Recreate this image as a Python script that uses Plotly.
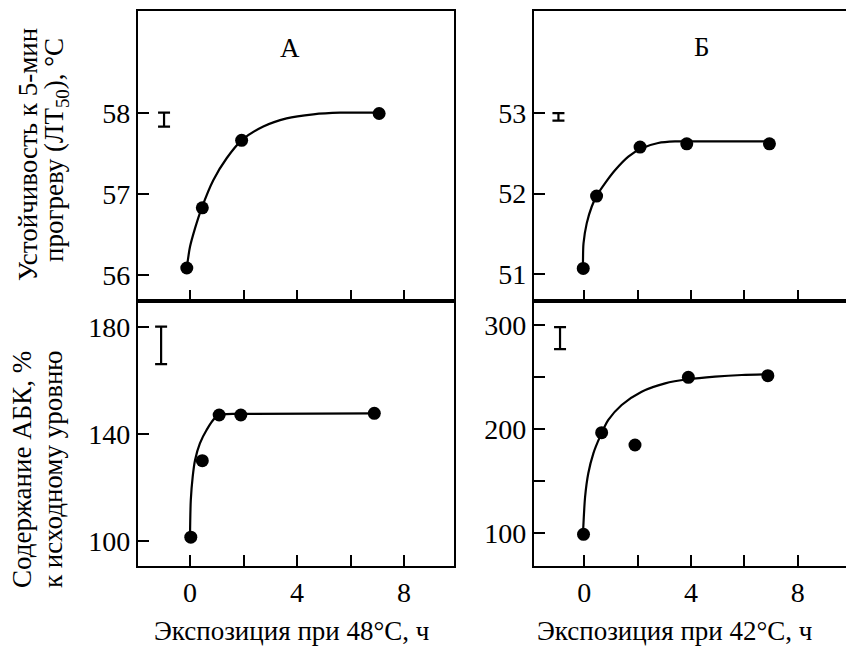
import plotly.graph_objects as go

# ---- data ----
# Panel A, top: resistance (LT50, °C) vs exposure at 48°C, h
tl_x = [-0.12, 0.46, 1.93, 7.07]
tl_y = [56.09, 56.83, 57.66, 57.99]
tl_curve_x = [-0.12, 0.0, 0.19, 0.44, 0.87, 1.37, 1.93, 2.74, 3.61, 4.61, 5.61, 7.04]
tl_curve_y = [56.09, 56.35, 56.58, 56.83, 57.17, 57.44, 57.66, 57.83, 57.93, 57.98, 58.0, 58.0]
tl_err_x, tl_err_y, tl_err_h = [-0.97], [57.915], [0.086]

# Panel Б, top: resistance vs exposure at 42°C, h
tr_x = [-0.04, 0.46, 2.09, 3.84, 6.94]
tr_y = [51.07, 51.97, 52.58, 52.62, 52.62]
tr_curve_x = [-0.05, -0.03, 0.09, 0.28, 0.46, 0.78, 1.15, 1.65, 2.11, 2.77, 3.40, 3.88, 6.94]
tr_curve_y = [51.07, 51.38, 51.63, 51.84, 51.97, 52.13, 52.29, 52.46, 52.56, 52.63, 52.65, 52.65, 52.65]
tr_err_x, tr_err_y, tr_err_h = [-0.97], [52.955], [0.046]

# Panel A, bottom: ABA content, % of initial level
bl_x = [0.03, 0.46, 1.09, 1.90, 6.89]
bl_y = [101.3, 129.9, 147.0, 147.0, 147.6]
bl_curve_x = [0.0, 0.03, 0.10, 0.19, 0.37, 0.62, 0.93, 1.24, 1.90, 6.89]
bl_curve_y = [101.3, 115.2, 123.9, 130.2, 136.4, 141.4, 145.8, 147.2, 147.4, 147.6]
bl_err_x, bl_err_y, bl_err_h = [-1.08], [173.0], [7.0]

# Panel Б, bottom: ABA content, % of initial level
br_x = [-0.03, 0.65, 1.90, 3.90, 6.88]
br_y = [99.0, 196.6, 184.8, 249.8, 251.3]
br_curve_x = [-0.05, -0.04, 0.03, 0.15, 0.34, 0.59, 0.90, 1.40, 2.15, 3.03, 3.90, 4.90, 5.90, 6.88]
br_curve_y = [99.0, 104.8, 135.1, 157.6, 176.8, 192.8, 208.8, 223.2, 236.0, 244.0, 247.9, 250.4, 252.0, 252.7]
br_err_x, br_err_y, br_err_h = [-0.91], [287.4], [10.5]

x_ticks = [0, 4, 8]
x_minor_step = 2
tl_yticks = [56, 57, 58]
tr_yticks = [51, 52, 53]
bl_yticks = [100, 140, 180]
br_yticks = [100, 200, 300]
br_minor_step = 50

W, H = 846, 646
FONT = "Liberation Serif, Times New Roman, serif"

fig = go.Figure()

panels = [
    ("x", "y", tl_x, tl_y, tl_curve_x, tl_curve_y, tl_err_x, tl_err_y, tl_err_h),
    ("x2", "y2", tr_x, tr_y, tr_curve_x, tr_curve_y, tr_err_x, tr_err_y, tr_err_h),
    ("x3", "y3", bl_x, bl_y, bl_curve_x, bl_curve_y, bl_err_x, bl_err_y, bl_err_h),
    ("x4", "y4", br_x, br_y, br_curve_x, br_curve_y, br_err_x, br_err_y, br_err_h),
]
for xa, ya, px, py, cx, cy, ex, ey, eh in panels:
    fig.add_trace(go.Scatter(x=cx, y=cy, mode="lines", xaxis=xa, yaxis=ya,
                             line=dict(color="black", width=2.2, shape="spline", smoothing=0.8),
                             hoverinfo="skip", showlegend=False))
    fig.add_trace(go.Scatter(x=px, y=py, mode="markers", xaxis=xa, yaxis=ya,
                             marker=dict(color="black", size=13), showlegend=False))
    fig.add_trace(go.Scatter(x=ex, y=ey, mode="markers", xaxis=xa, yaxis=ya,
                             marker=dict(color="rgba(0,0,0,0)", size=1),
                             error_y=dict(type="data", array=eh, symmetric=True,
                                          color="black", thickness=2.2, width=6),
                             showlegend=False))

def px2x(a, b):
    return [a / W, b / W]

def px2y(top, bottom):
    return [1 - bottom / H, 1 - top / H]

tick_font = dict(family=FONT, size=28, color="black")
minor_x = dict(dtick=x_minor_step, tick0=0, ticks="inside", ticklen=11,
               tickwidth=2, tickcolor="black", showgrid=False)
common_x = dict(showline=True, linecolor="black", linewidth=2.2, ticks="inside",
                ticklen=11, tickwidth=2, tickcolor="black", tickvals=x_ticks,
                showgrid=False, zeroline=False, tickfont=tick_font, minor=minor_x)
common_y = dict(showline=True, linecolor="black", linewidth=2.2, ticks="inside",
                ticklen=11, tickwidth=2, tickcolor="black", showgrid=False,
                zeroline=False, tickfont=tick_font)

left_dom = px2x(138, 454)
right_dom = px2x(534, 846)
top_dom = px2y(11, 301)
bot_dom = px2y(301, 566)

fig.update_layout(
    width=W, height=H, autosize=False,
    margin=dict(l=0, r=0, t=0, b=0),
    paper_bgcolor="white", plot_bgcolor="white",
    font=dict(family=FONT, color="black"),
    xaxis=dict(common_x, domain=left_dom, range=[-1.944, 9.869], anchor="y",
               showticklabels=False, mirror=True),
    yaxis=dict(common_y, domain=top_dom, range=[55.684, 59.251], anchor="x",
               tickvals=tl_yticks, mirror=True),
    xaxis2=dict(common_x, domain=right_dom, range=[-1.886, 9.81], anchor="y2",
                showticklabels=False, mirror=True),
    yaxis2=dict(common_y, domain=top_dom, range=[50.664, 54.273], anchor="x2",
                tickvals=tr_yticks, mirror=False),
    xaxis3=dict(common_x, domain=left_dom, range=[-1.944, 9.869], anchor="y3",
                mirror=True),
    yaxis3=dict(common_y, domain=bot_dom, range=[90.54, 189.61], anchor="x3",
                tickvals=bl_yticks, mirror=True),
    xaxis4=dict(common_x, domain=right_dom, range=[-1.886, 9.81], anchor="y4",
                mirror=True),
    yaxis4=dict(common_y, domain=bot_dom, range=[68.6, 323.04], anchor="x4",
                tickvals=br_yticks, mirror=False,
                minor=dict(dtick=br_minor_step, tick0=0, ticks="inside", ticklen=11,
                           tickwidth=2, tickcolor="black", showgrid=False)),
)

def ann(text, x, y, size=24, angle=0):
    fig.add_annotation(text=text, x=x / W, y=1 - y / H, xref="paper", yref="paper",
                       showarrow=False, xanchor="center", yanchor="middle",
                       textangle=angle, font=dict(family=FONT, size=size, color="black"))

ann("А", 290, 48, size=27)
ann("Б", 702, 47, size=27)
ann("Устойчивость к 5-мин", 28, 155, size=27, angle=-90)
ann("прогреву (ЛТ<sub>50</sub>), °C", 56, 150, size=27, angle=-90)
ann("Содержание АБК, %", 22, 470, size=27, angle=-90)
ann("к исходному уровню", 53, 469, size=27, angle=-90)
ann("Экспозиция при 48°C, ч", 291, 631, size=27)
ann("Экспозиция при 42°C, ч", 674, 631, size=27)

fig.write_html("out.html", config={"displayModeBar": False},
               post_script="document.body.style.margin='0';")
